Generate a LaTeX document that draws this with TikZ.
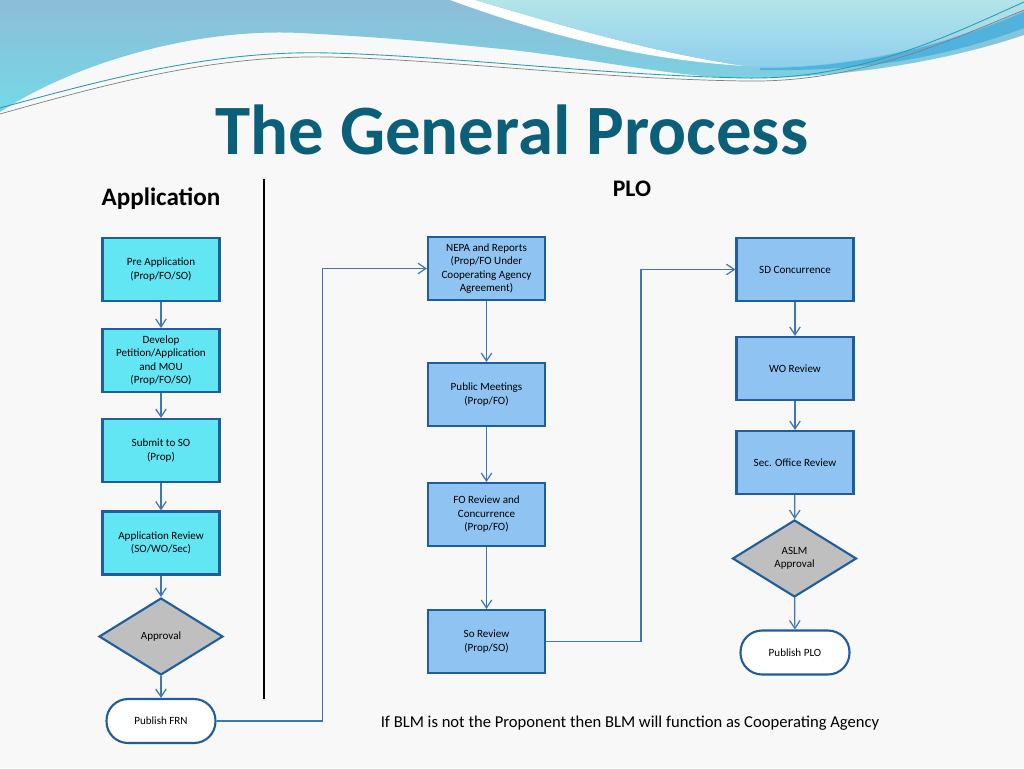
\documentclass[tikz,border=0pt]{standalone}
\usepackage{fontspec}
\setmainfont{Carlito}
\usetikzlibrary{arrows.meta,shapes.geometric}

\definecolor{paper}{HTML}{F8F8F8}
\definecolor{boxline}{HTML}{1F5D9C}
\definecolor{cyanfill}{HTML}{62E6F4}
\definecolor{bluefill}{HTML}{8FC4F2}
\definecolor{edgeblue}{HTML}{3F77B5}
\definecolor{titleteal}{HTML}{0B5F78}
\definecolor{wavetop}{HTML}{8DBDD8}
\definecolor{wavebot}{HTML}{74D9E6}
\definecolor{aquatop}{HTML}{B3E5E8}
\definecolor{aquabot}{HTML}{8CCDEE}
\definecolor{waveaccent}{HTML}{52B2DE}
\definecolor{thinteal}{HTML}{2A9DAF}

\begin{document}
\begin{tikzpicture}
        [x=0.02cm, y=-0.02cm,
        box/.style={rectangle, draw=boxline, line width=1.2pt, minimum width=2.34cm,
            minimum height=1.26cm, align=center, inner sep=1pt,
            font=\fontsize{6.3}{7.7}\selectfont},
        appbox/.style={box, fill=cyanfill},
        plobox/.style={box, fill=bluefill},
        decision/.style={diamond, draw=boxline, line width=1.2pt, fill=black!25,
            minimum width=2.48cm, minimum height=1.54cm, inner sep=0pt, align=center,
            font=\fontsize{6.3}{7.7}\selectfont},
        terminal/.style={rectangle, rounded corners=0.43cm, draw=boxline, line width=1.2pt,
            fill=white, minimum width=2.18cm, minimum height=0.88cm,
            font=\fontsize{6.3}{7.7}\selectfont},
        edge/.style={draw=edgeblue, line width=0.7pt, -{Straight Barb[length=4.5pt,width=6pt]}},
        heading/.style={font=\fontsize{13.5}{16}\selectfont\bfseries}]

        % page and its margins
        \fill[paper] (0,0) rectangle (1024,768);
        \useasboundingbox (0,0) rectangle (1024,768);

        % --- waves along the top edge ---
        \shade[top color=wavetop, bottom color=wavebot]
            (0,0) -- (1024,0) -- (1024,35)
            .. controls (950,60) and (850,78) .. (745,78)
            .. controls (680,78) and (600,60) .. (512,50)
            .. controls (450,44) and (400,38) .. (300,33)
            .. controls (200,28) and (80,60) .. (0,112) -- cycle;
        \fill[white]
            (450,0) .. controls (560,40) and (650,60) .. (745,66)
            .. controls (650,52) and (560,25) .. (475,0) -- cycle;
        \shade[top color=aquatop, bottom color=aquabot]
            (475,0) .. controls (560,25) and (650,52) .. (745,66)
            .. controls (850,72) and (960,40) .. (1024,10) -- (1024,0) -- cycle;
        \fill[waveaccent]
            (760,68) .. controls (880,68) and (970,35) .. (1024,12) -- (1024,28)
            .. controls (960,52) and (880,72) .. (760,70) -- cycle;
        \draw[thinteal, line width=0.5pt]
            (0,108) .. controls (120,75) and (220,50) .. (330,53)
            .. controls (450,56) and (600,75) .. (745,78)
            .. controls (860,80) and (950,35) .. (1024,2);
        \draw[gray, line width=0.4pt]
            (0,114) .. controls (120,80) and (220,55) .. (330,57)
            .. controls (450,60) and (600,79) .. (745,81)
            .. controls (860,83) and (950,40) .. (1024,10);

        % title and headings
        \node[font=\fontsize{40.3}{46}\selectfont\bfseries, text=titleteal] (title) at (512,130) {The General Process};
        \node[heading, font=\fontsize{14.3}{17}\selectfont\bfseries] (apphead) at (161,199) {Application};
        \node[heading] (plohead) at (632,189) {PLO};
        \draw[black, line width=1.7pt] (264,179) -- (264,699);

        % Application column
        \node[appbox] (pre) at (161,269.5) {Pre Application\\(Prop/FO/SO)};
        \node[appbox] (dev) at (161,360.5) {Develop\\Petition/Application\\and MOU\\(Prop/FO/SO)};
        \node[appbox] (sub) at (161,450.5) {Submit to SO\\(Prop)};
        \node[appbox] (rev) at (161,543) {Application Review\\(SO/WO/Sec)};
        \node[decision] (appr) at (161,636.5) {Approval};
        \node[terminal] (frn) at (161,721) {Publish FRN};

        % PLO, field office column
        \node[plobox] (nepa) at (486.5,268.5) {NEPA and Reports\\(Prop/FO Under\\Cooperating Agency\\Agreement)};
        \node[plobox] (pub) at (486.5,394.5) {Public Meetings\\(Prop/FO)};
        \node[plobox] (fo) at (486.5,514.5) {FO Review and\\Concurrence\\(Prop/FO)};
        \node[plobox] (so) at (486.5,641.5) {So Review\\(Prop/SO)};

        % PLO, state and Washington column
        \node[plobox] (sd) at (795,269.5) {SD Concurrence};
        \node[plobox] (wo) at (795,368.5) {WO Review};
        \node[plobox] (sec) at (795,462.5) {Sec. Office Review};
        \node[decision] (aslm) at (794.5,558.5) {ASLM\\Approval};
        \node[terminal] (plo) at (795,652.5) {Publish PLO};

        \draw[edge] (pre) -- (dev);
        \draw[edge] (dev) -- (sub);
        \draw[edge] (sub) -- (rev);
        \draw[edge] (rev) -- (appr);
        \draw[edge] (appr) -- (frn);

        \draw[edge] (nepa) -- (pub);
        \draw[edge] (pub) -- (fo);
        \draw[edge] (fo) -- (so);

        \draw[edge] (sd) -- (wo);
        \draw[edge] (wo) -- (sec);
        \draw[edge] (sec) -- (aslm);
        \draw[edge] (aslm) -- (plo);

        % jumps between the columns
        \draw[edge] (frn.east) -- ++(106,0) |- (nepa.west);
        \draw[edge] (so.east) -- ++(95,0) |- (sd.west);

        \node[font=\fontsize{9.45}{11}\selectfont] (note) at (630,723) {If BLM is not the Proponent then BLM will function as Cooperating Agency};
    \end{tikzpicture}
\end{document}
